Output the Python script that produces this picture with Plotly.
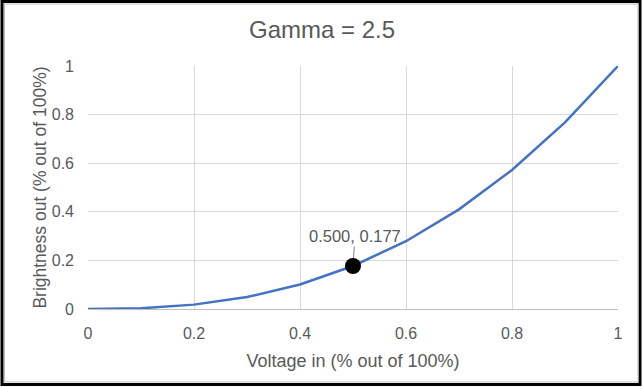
import plotly.graph_objects as go

voltage = [0.0, 0.1, 0.2, 0.3, 0.4, 0.5, 0.6, 0.7, 0.8, 0.9, 1.0]
brightness = [0.0, 0.003, 0.018, 0.049, 0.101, 0.177, 0.279, 0.410, 0.572, 0.768, 1.0]
marked_x = [0.5]
marked_y = [0.177]
tick_vals = [0, 0.2, 0.4, 0.6, 0.8, 1]
tick_text = ["0", "0.2", "0.4", "0.6", "0.8", "1"]

W, H = 642, 387
L, R, T, B = 88, 24, 66, 78
pw, ph = W - L - R, H - T - B

def px(p):
    return (p - L) / pw

def py(q):
    return (H - B - q) / ph

grey = "#595959"
font = "Liberation Sans, Arial, sans-serif"

fig = go.Figure()
fig.add_trace(go.Scatter(x=voltage, y=brightness, mode="lines",
                         line=dict(color="#4472C4", width=2.5), hoverinfo="skip"))
fig.add_trace(go.Scatter(x=marked_x, y=marked_y, mode="markers",
                         marker=dict(color="black", size=16), hoverinfo="skip"))

fig.add_annotation(x=marked_x[0], y=marked_y[0], xref="x", yref="y",
                   text=f"{marked_x[0]:.3f}, {marked_y[0]:.3f}",
                   showarrow=True, arrowhead=0, arrowwidth=1, arrowcolor="#7f7f7f",
                   ax=2, ay=-30, standoff=8,
                   font=dict(size=16.5, color=grey, family=font))

fig.add_shape(type="rect", xref="paper", yref="paper",
              x0=px(2), x1=px(640), y0=py(384.5), y1=py(1.5),
              line=dict(color="black", width=3), layer="above")
fig.add_shape(type="rect", xref="paper", yref="paper",
              x0=px(4.5), x1=px(638), y0=py(382), y1=py(4),
              line=dict(color="#bfbfbf", width=1), layer="above")

fig.update_layout(
    width=W, height=H,
    margin=dict(l=L, r=R, t=T, b=B),
    paper_bgcolor="white", plot_bgcolor="white",
    showlegend=False,
    title=dict(text="Gamma = 2.5", x=322 / W, xref="container", xanchor="center",
               y=1 - 30 / H, yanchor="middle",
               font=dict(size=24, color=grey, family=font)),
    font=dict(family=font, color=grey, size=16),
)
fig.update_xaxes(range=[0, 1], tickvals=tick_vals, ticktext=tick_text,
                 showgrid=True, gridcolor="#d9d9d9", gridwidth=1,
                 zeroline=False, showline=True, linecolor="#bfbfbf", linewidth=1,
                 ticks="", ticklabelstandoff=10,
                 tickfont=dict(size=16, color=grey),
                 title=dict(text="Voltage in (% out of 100%)", standoff=13,
                            font=dict(size=18, color=grey)))
fig.update_yaxes(range=[0, 1], tickvals=tick_vals, ticktext=tick_text,
                 showgrid=True, gridcolor="#d9d9d9", gridwidth=1,
                 zeroline=False, showline=False,
                 ticks="", ticklabelstandoff=13,
                 tickfont=dict(size=16, color=grey),
                 title=dict(text="Brightness out (% out of 100%)", standoff=0,
                            font=dict(size=17.5, color=grey)))

fig.write_html("out.html", config={"displayModeBar": False},
               post_script="document.body.style.margin='0';")
